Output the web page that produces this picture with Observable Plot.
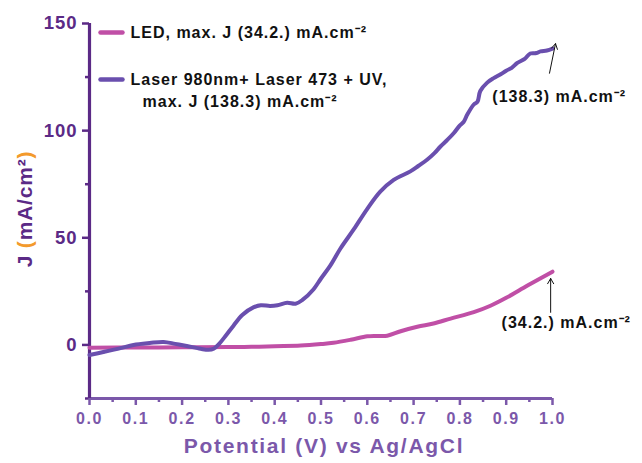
<!DOCTYPE html>
<html>
<head>
<meta charset="utf-8">
<script src="https://cdn.jsdelivr.net/npm/d3@7"></script>
<script src="https://cdn.jsdelivr.net/npm/@observablehq/plot@0.6"></script>
<style>
  html, body { margin: 0; padding: 0; background: #fff; }
  #chart { width: 642px; height: 463px; }
  #chart svg text { letter-spacing: 1px; }
  #chart svg .xt text { letter-spacing: 1.6px; }
  #chart svg .ttl text { letter-spacing: 1.7px; }
</style>
</head>
<body>
<div id="chart"></div>
<script>
// ---- data ----
const V_LED = [0, 0.1, 0.2, 0.3, 0.35, 0.4, 0.456, 0.5, 0.527, 0.564, 0.6, 0.62, 0.643, 0.672, 0.708, 0.743, 0.78, 0.83, 0.866, 0.9, 0.946, 1.0];
const J_LED = [-1.3, -1.2, -1.1, -1.0, -0.9, -0.6, -0.3, 0.4, 1.0, 2.4, 4.0, 4.2, 4.3, 6.4, 8.5, 10.0, 12.3, 15.3, 18.3, 22.0, 27.7, 34.2];

const V_LASER = [0, 0.03, 0.067, 0.095, 0.13, 0.16, 0.185, 0.21, 0.24, 0.257, 0.268, 0.28, 0.295, 0.311, 0.33, 0.354, 0.37, 0.39, 0.406, 0.427, 0.445, 0.46, 0.484, 0.5, 0.52, 0.542, 0.571, 0.6, 0.628, 0.657, 0.693, 0.71, 0.729, 0.745, 0.758, 0.772, 0.787, 0.8, 0.808, 0.816, 0.83, 0.838, 0.844, 0.859, 0.873, 0.888, 0.9, 0.912, 0.924, 0.94, 0.952, 0.965, 0.974, 0.988, 1.0];
const J_LASER = [-4.7, -3.3, -1.5, 0, 0.9, 1.4, 0.5, -0.5, -1.8, -2.3, -1.8, 0.5, 4.5, 9, 14, 17.5, 18.5, 18.2, 18.5, 19.7, 19.2, 21, 26, 31, 37, 45, 54, 63.5, 71.5, 77, 81, 83.5, 86.4, 89.5, 92.6, 95.5, 98.9, 102.5, 104, 107.5, 112.2, 113.5, 118.5, 122.4, 124.5, 126.3, 128, 129.3, 131.6, 133.5, 136, 136.2, 137, 137.4, 138.3];

const SERIES = ["LED, max. J (34.2.) mA.cm⁻²", "Laser 980nm+ Laser 473 + UV,"];
const SERIES_LINE2 = ["", "max. J (138.3) mA.cm⁻²"];
const ANNOT_TEXT = ["(34.2.) mA.cm⁻²", "(138.3) mA.cm⁻²"];
const MAX_V = [1.0, 1.0];
const MAX_J = [34.2, 138.3];

const X_MAJOR = [0, 0.1, 0.2, 0.3, 0.4, 0.5, 0.6, 0.7, 0.8, 0.9, 1.0];
const X_MINOR = [0.05, 0.15, 0.25, 0.35, 0.45, 0.55, 0.65, 0.75, 0.85, 0.95];
const Y_MAJOR = [0, 50, 100, 150];
const Y_MINOR = [-25, 25, 75, 125];

const X_TITLE = "Potential (V) vs Ag/AgCl";

// ---- build tables ----
const led = V_LED.map((v, i) => ({ v, j: J_LED[i] }));
const laser = V_LASER.map((v, i) => ({ v, j: J_LASER[i] }));

const C_LED = "#c04fa6";
const C_LASER = "#6a4fae";
const C_YAXIS = "#5b2a86";
const C_XAXIS = "#7b58aa";
const C_ORANGE = "#f39a2c";
const FONT = "'Liberation Sans', Arial, Helvetica, sans-serif";

const lineSymbol = { draw(ctx) { ctx.moveTo(-11, 0); ctx.lineTo(11, 0); } };

// annotations: label + arrow pointing at the end value of each series
const annot = [
  { v: MAX_V[0], j: MAX_J[0], text: ANNOT_TEXT[0], ax1: -0.004, ay1: -19, ax2: -0.004, ay2: -3.2, tdv: -0.11, tj: -23.7 },
  { v: MAX_V[1], j: MAX_J[1], text: ANNOT_TEXT[1], ax1: -0.0065, ay1: -11.5, ax2: 0.0065, ay2: 2.3, tdv: -0.13, tj: -22.6 }
];

const plot = Plot.plot({
  width: 642,
  height: 463,
  marginLeft: 89,
  marginRight: 90,
  marginTop: 23,
  marginBottom: 65,
  style: { fontFamily: FONT, background: "#fff", overflow: "visible" },
  x: { domain: [0, 1], axis: null },
  y: { domain: [-25, 150], axis: null },
  marks: [
    // axis lines
    Plot.ruleY([-25], { stroke: C_XAXIS, strokeWidth: 3.2 }),
    Plot.ruleX([0], { stroke: C_YAXIS, strokeWidth: 3.2 }),
    // y axis ticks/labels
    Plot.axisY({ ticks: Y_MINOR, tickSize: 4, tickFormat: () => "", label: null, stroke: C_YAXIS, strokeWidth: 2.5 }),
    Plot.axisY({ ticks: Y_MAJOR, tickSize: 7, tickPadding: 5, label: null, stroke: C_YAXIS, strokeWidth: 2.5,
      fill: C_YAXIS, fontSize: 18.5, fontWeight: "bold", tickFormat: d => String(d) }),
    // x axis ticks/labels
    Plot.axisX({ ticks: X_MINOR, tickSize: 4, tickFormat: () => "", label: null, stroke: C_XAXIS, strokeWidth: 2.5 }),
    Plot.axisX({ ticks: X_MAJOR, tickSize: 7, tickPadding: 7, label: null, stroke: C_XAXIS, strokeWidth: 2.5,
      fill: C_XAXIS, fontSize: 16, fontWeight: "bold", tickFormat: d => d.toFixed(1), className: "xt" }),
    // x title
    Plot.text([X_TITLE], { frameAnchor: "bottom", dy: 54, dx: 3, fill: C_XAXIS, fontSize: 21, fontWeight: "bold", className: "ttl" }),
    // series
    Plot.line(led, { x: "v", y: "j", stroke: C_LED, strokeWidth: 4, curve: "catmull-rom" }),
    Plot.line(laser, { x: "v", y: "j", stroke: C_LASER, strokeWidth: 4, curve: "catmull-rom" }),
    // annotations
    Plot.arrow(annot, { x1: d => d.v + d.ax1, y1: d => d.j + d.ay1, x2: d => d.v + d.ax2, y2: d => d.j + d.ay2,
      stroke: "#111", strokeWidth: 1, headLength: 9 }),
    Plot.text(annot, { x: d => d.v + d.tdv, y: d => d.j + d.tj, text: "text", textAnchor: "start",
      fill: "#111", fontSize: 16, fontWeight: "bold" }),
    // legend
    Plot.dot([0], { frameAnchor: "top-left", dx: 22, dy: 9, symbol: lineSymbol, stroke: C_LED, strokeWidth: 4.5, strokeLinecap: "round", r: 5 }),
    Plot.dot([0], { frameAnchor: "top-left", dx: 22, dy: 56, symbol: lineSymbol, stroke: C_LASER, strokeWidth: 4.5, strokeLinecap: "round", r: 5 }),
    Plot.text([SERIES[0]], { frameAnchor: "top-left", dx: 41, dy: 9, textAnchor: "start", lineAnchor: "middle", fill: "#111", fontSize: 16, fontWeight: "bold" }),
    Plot.text([SERIES[1]], { frameAnchor: "top-left", dx: 41, dy: 56, textAnchor: "start", lineAnchor: "middle", fill: "#111", fontSize: 16, fontWeight: "bold" }),
    Plot.text([SERIES_LINE2[1]], { frameAnchor: "top-left", dx: 53, dy: 78, textAnchor: "start", lineAnchor: "middle", fill: "#111", fontSize: 16, fontWeight: "bold" })
  ]
});

// y title with coloured parentheses
const svg = d3.select(plot);
const yt = svg.append("text")
  .attr("transform", "translate(26,209) rotate(-90)")
  .attr("text-anchor", "middle")
  .attr("dominant-baseline", "middle")
  .attr("font-family", FONT)
  .attr("font-size", 21)
  .attr("font-weight", "bold")
  .attr("fill", C_YAXIS)
  .style("letter-spacing", "0.8px");
yt.append("tspan").text("J ");
yt.append("tspan").attr("fill", C_ORANGE).text("(");
yt.append("tspan").text("mA/cm²");
yt.append("tspan").attr("fill", C_ORANGE).text(")");

document.getElementById("chart").appendChild(plot);
</script>
</body>
</html>
